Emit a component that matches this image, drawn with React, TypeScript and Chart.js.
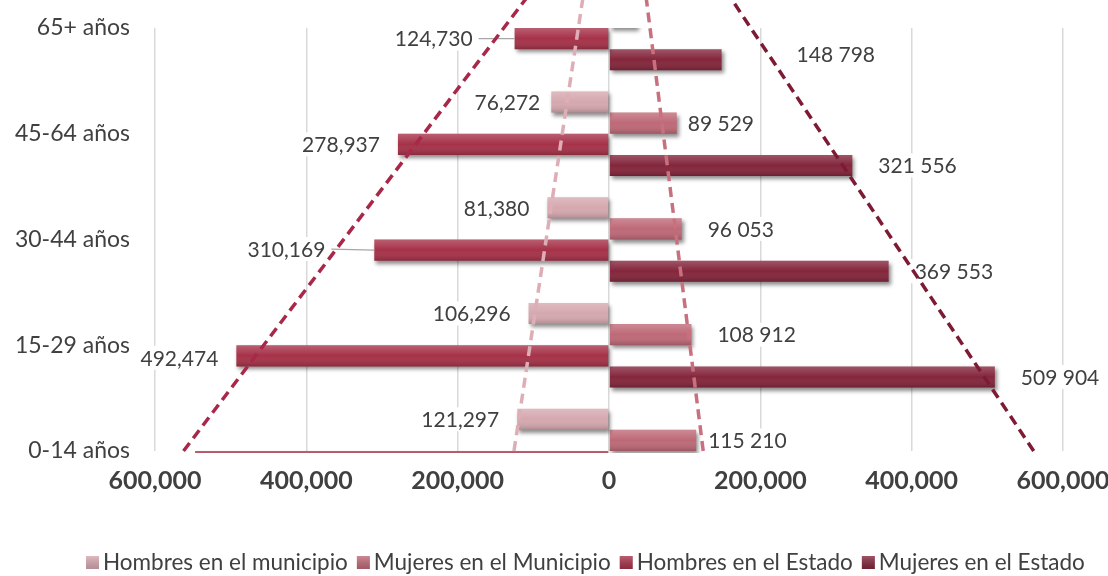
import React, { useEffect, useRef } from 'react';
import { Chart, registerables } from 'chart.js';

Chart.register(...registerables);

// ---------- DATA ----------
const CATEGORIES = ['65+ años', '45-64 años', '30-44 años', '15-29 años', '0-14 años'];
const HOMBRES_MUNICIPIO = [-30000, -76272, -81380, -106296, -121297];
const MUJERES_MUNICIPIO = [37000, 89529, 96053, 108912, 115210];
const HOMBRES_ESTADO = [-124730, -278937, -310169, -492474, -547000];
const MUJERES_ESTADO = [148798, 321556, 369553, 509904, 522000];
const SERIES_NAMES = [
  'Hombres en el municipio',
  'Mujeres en el Municipio',
  'Hombres en el Estado',
  'Mujeres en el Estado',
];
const X_MIN = -600000;
const X_MAX = 600000;
const X_STEP = 200000;

// ---------- STYLE ----------
const FONT = "Lato, 'DejaVu Sans', sans-serif";
const TEXT = '#404040';
const BAR_COLORS = ['#D5A8AF', '#BE6977', '#A63249', '#84263C'];
const TREND_COLORS = ['#DDAEB5', '#C9707E', '#A8284A', '#7E1B34'];

// label layout tweaks (pixel gaps from bar end), keyed "dataset-index"
const LABEL_GAP: Record<string, number> = {
  '0-1': 11,
  '2-0': 42,
  '2-2': 49,
  '1-1': 11,
  '1-4': 12,
  '3-0': 75,
};
const LABEL_DY: Record<string, number> = { '3-0': -5, '2-3': 2, '2-2': -1 };
const LEADERS = ['2-0', '2-2'];

const fmtComma = (v: number) => Math.round(v).toLocaleString('en-US');
const fmtSpace = (v: number) => Math.round(v).toLocaleString('en-US').replace(/,/g, ' ');

const shadowPlugin = {
  id: 'barShadow',
  beforeDatasetDraw(chart: any) {
    const ctx = chart.ctx;
    ctx.save();
    ctx.shadowColor = 'rgba(0,0,0,0.45)';
    ctx.shadowBlur = 4;
    ctx.shadowOffsetX = 2;
    ctx.shadowOffsetY = 3;
  },
  afterDatasetDraw(chart: any, args: any) {
    const ctx = chart.ctx;
    ctx.restore();
    const { chartArea } = chart;
    const meta = args.meta;
    ctx.save();
    ctx.beginPath();
    ctx.rect(chartArea.left, chartArea.top, chartArea.right - chartArea.left, chartArea.bottom - chartArea.top + 2);
    ctx.clip();
    meta.data.forEach((el: any) => {
      const p = el.getProps(['x', 'y', 'base', 'height'], true);
      const left = Math.min(p.x, p.base);
      const w = Math.abs(p.x - p.base);
      const top = p.y - p.height / 2;
      const g = ctx.createLinearGradient(0, top, 0, top + p.height);
      g.addColorStop(0, 'rgba(255,255,255,0.22)');
      g.addColorStop(0.5, 'rgba(255,255,255,0)');
      g.addColorStop(1, 'rgba(0,0,0,0.18)');
      ctx.fillStyle = g;
      ctx.fillRect(left, top, w, p.height);
    });
    ctx.restore();
  },
};

const labelPlugin = {
  id: 'barLabels',
  afterDatasetsDraw(chart: any) {
    const { ctx, chartArea } = chart;
    ctx.save();
    ctx.font = `21px ${FONT}`;
    ctx.textBaseline = 'middle';
    ctx.textAlign = 'left';
    chart.data.datasets.forEach((ds: any, di: number) => {
      const meta = chart.getDatasetMeta(di);
      meta.data.forEach((el: any, i: number) => {
        const p = el.getProps(['x', 'y', 'base'], true);
        if (p.y < chartArea.top || p.y > chartArea.bottom) return;
        const v = ds.data[i] as number;
        const key = `${di}-${i}`;
        const isLeft = v < 0;
        const text = isLeft ? fmtComma(Math.abs(v)) : fmtSpace(v);
        const gap = LABEL_GAP[key] ?? (isLeft ? 18 : 26);
        const ty = p.y + (LABEL_DY[key] ?? 0);
        const w = ctx.measureText(text).width;
        const tx = isLeft ? p.x - gap - w : p.x + gap;
        ctx.fillStyle = '#ffffff';
        ctx.fillRect(tx - 4, ty - 12, w + 8, 24);
        if (LEADERS.includes(key)) {
          ctx.strokeStyle = '#A6A6A6';
          ctx.lineWidth = 1.3;
          ctx.beginPath();
          ctx.moveTo(tx + w + 6, ty);
          ctx.lineTo(p.x, p.y);
          ctx.stroke();
        }
        ctx.fillStyle = TEXT;
        ctx.fillText(text, tx, ty + 1);
      });
    });
    ctx.restore();
  },
};

const trendPlugin = {
  id: 'trendLines',
  afterDatasetsDraw(chart: any) {
    const { ctx } = chart;
    const xs = chart.scales.x;
    const ys = chart.scales.y;
    ctx.save();
    chart.data.datasets.forEach((ds: any, di: number) => {
      const vals = ds.data as number[];
      const n = vals.length;
      let sx = 0, sy = 0, sxx = 0, sxy = 0;
      vals.forEach((v, i) => { sx += i; sy += v; sxx += i * i; sxy += i * v; });
      const b = (n * sxy - sx * sy) / (n * sxx - sx * sx);
      const a = (sy - b * sx) / n;
      const i0 = n - 1;
      const i1 = -0.5;
      ctx.strokeStyle = TREND_COLORS[di];
      ctx.lineWidth = 3.5;
      ctx.setLineDash([10, 6]);
      ctx.beginPath();
      ctx.moveTo(xs.getPixelForValue(a + b * i0), ys.getPixelForValue(i0));
      ctx.lineTo(xs.getPixelForValue(a + b * i1), ys.getPixelForValue(i1));
      ctx.stroke();
    });
    ctx.restore();
  },
};

const legendPlugin = {
  id: 'customLegend',
  afterDraw(chart: any) {
    const { ctx } = chart;
    ctx.save();
    ctx.font = `22.5px ${FONT}`;
    ctx.textBaseline = 'middle';
    ctx.textAlign = 'left';
    const y = 563;
    let x = 86;
    SERIES_NAMES.forEach((name, i) => {
      ctx.fillStyle = BAR_COLORS[i];
      ctx.fillRect(x, y - 7, 13, 13);
      const g = ctx.createLinearGradient(0, y - 7, 0, y + 6);
      g.addColorStop(0, 'rgba(255,255,255,0.22)');
      g.addColorStop(1, 'rgba(0,0,0,0.15)');
      ctx.fillStyle = g;
      ctx.fillRect(x, y - 7, 13, 13);
      x += 17;
      ctx.fillStyle = TEXT;
      ctx.fillText(name, x, y);
      x += ctx.measureText(name).width + 9;
    });
    ctx.restore();
  },
};

export default function App() {
  const ref = useRef<HTMLCanvasElement>(null);
  useEffect(() => {
    const canvas = ref.current!;
    const series = [HOMBRES_MUNICIPIO, MUJERES_MUNICIPIO, HOMBRES_ESTADO, MUJERES_ESTADO];
    const chart = new Chart(canvas, {
      type: 'bar',
      data: {
        labels: CATEGORIES,
        datasets: series.map((s, i) => ({
          label: SERIES_NAMES[i],
          data: s,
          backgroundColor: BAR_COLORS[i],
          borderWidth: 0,
          categoryPercentage: 0.8,
          barPercentage: 1,
          clip: { left: 0, right: 0, top: 0, bottom: 2 },
        })),
      } as any,
      options: {
        indexAxis: 'y',
        responsive: false,
        animation: false,
        devicePixelRatio: 1,
        layout: { padding: { top: 28, right: 45, bottom: 65, left: 0 } },
        scales: {
          x: {
            type: 'linear',
            min: X_MIN,
            max: X_MAX,
            ticks: {
              stepSize: X_STEP,
              callback: (v: any) => fmtComma(Math.abs(Number(v))),
              font: { family: FONT, size: 25, weight: 'bold' },
              color: TEXT,
              padding: 15,
              maxRotation: 0,
              autoSkip: false,
            },
            grid: { color: '#D9D9D9', lineWidth: 1.5, drawTicks: false },
            border: { display: false },
            afterFit: (scale: any) => {
              scale.height = 60;
              scale.paddingLeft = 0;
              scale.paddingRight = 0;
            },
          },
          y: {
            type: 'category',
            offset: false,
            grid: { display: false, drawTicks: false },
            border: { display: false },
            ticks: { font: { family: FONT, size: 23 }, color: TEXT, padding: 25 },
            afterFit: (scale: any) => {
              scale.width = 155;
              scale.paddingTop = 0;
              scale.paddingBottom = 0;
            },
          },
        },
        plugins: { legend: { display: false }, tooltip: { enabled: false } },
      } as any,
      plugins: [shadowPlugin, labelPlugin, trendPlugin, legendPlugin],
    });
    return () => chart.destroy();
  }, []);
  return (
    <div style={{ position: 'fixed', left: 0, top: 0, width: 1108, height: 576, background: '#fff' }}>
      <canvas ref={ref} width={1108} height={576} style={{ display: 'block' }} />
    </div>
  );
}
